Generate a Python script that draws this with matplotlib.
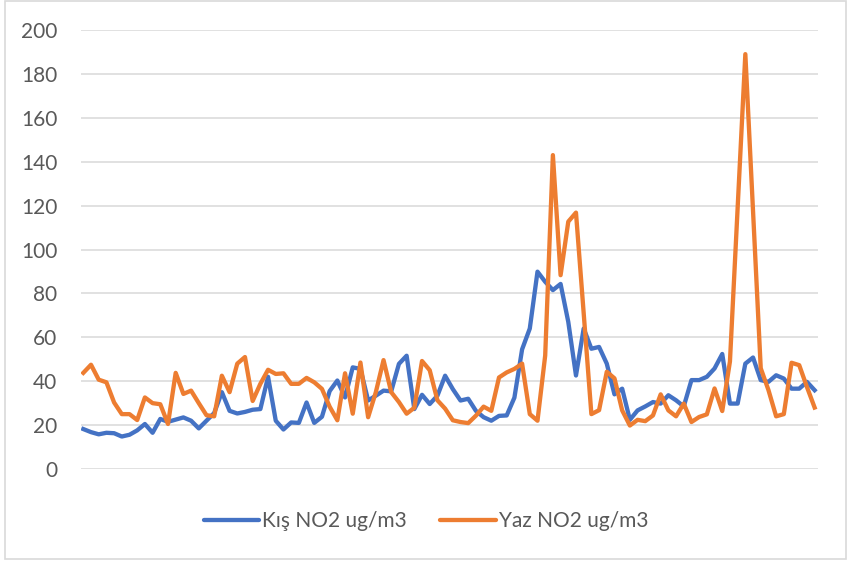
import matplotlib.pyplot as plt
from matplotlib.patches import Rectangle
from matplotlib.lines import Line2D

# Daily NO2 readings (ug/m3)
kis_no2 = [18.2, 16.8, 15.8, 16.5, 16.3, 14.8, 15.6, 17.6, 20.5, 16.5,
           22.8, 21.5, 22.5, 23.5, 22.0, 18.5, 22.0, 25.5, 35.0, 26.5,
           25.3, 26.0, 27.0, 27.3, 42.0, 22.0, 18.0, 21.2, 21.0, 30.3,
           21.0, 23.8, 35.5, 40.3, 32.6, 46.3, 45.6, 31.2, 33.4, 35.7,
           35.4, 47.9, 51.6, 27.3, 33.8, 29.6, 33.4, 42.5, 36.4, 31.2,
           32.0, 26.5, 23.6, 22.0, 24.2, 24.4, 32.5, 54.5, 64.0, 89.9,
           85.3, 81.5, 84.3, 67.0, 42.6, 64.0, 54.8, 55.6, 48.0, 34.0,
           36.6, 22.4, 26.7, 28.5, 30.5, 29.8, 33.6, 31.3, 28.5, 40.5,
           40.5, 42.0, 45.8, 52.4, 29.8, 29.8, 48.0, 50.8, 40.5, 39.7,
           42.7, 41.2, 36.6, 36.6, 39.7, 35.9]

yaz_no2 = [43.8, 47.5, 40.7, 39.5, 30.3, 25.0, 25.0, 22.3, 32.6, 30.0,
           29.5, 20.5, 43.8, 34.2, 35.7, 30.0, 24.5, 24.0, 42.5, 35.0,
           48.0, 51.0, 31.0, 38.8, 45.2, 43.3, 43.6, 38.8, 38.8, 41.5,
           39.5, 36.5, 28.4, 22.2, 43.6, 25.2, 48.5, 23.6, 35.0, 49.6,
           35.0, 30.5, 25.2, 27.9, 49.2, 45.0, 31.3, 27.5, 22.2, 21.4,
           20.9, 24.3, 28.4, 26.5, 41.7, 44.0, 45.6, 48.0, 25.0, 22.0,
           51.7, 143.0, 88.3, 112.7, 116.8, 71.0, 25.0, 26.8, 44.3, 41.3,
           26.7, 19.8, 22.4, 21.8, 24.4, 34.0, 26.7, 24.0, 29.8, 21.4,
           23.7, 24.9, 36.7, 26.4, 49.0, 119.0, 189.0, 117.5, 45.9, 36.0,
           24.0, 25.0, 48.4, 47.3, 37.4, 28.0]

series_labels = ["Kış NO2 ug/m3", "Yaz NO2 ug/m3"]
y_ticks = list(range(0, 201, 20))

BLUE = "#4472C4"
ORANGE = "#ED7D31"
GRID = "#D9D9D9"
TEXT = "#595959"

plt.rcParams["font.family"] = ["Lato", "DejaVu Sans"]

fig = plt.figure(figsize=(8.48, 5.63), dpi=100)
ax = fig.add_axes([81 / 848, 94 / 563, 736.7 / 848, 439 / 563])

x = list(range(len(kis_no2)))
ax.plot(x, kis_no2, color=BLUE, lw=3.1, solid_joinstyle="round", zorder=3)
ax.plot(x, yaz_no2, color=ORANGE, lw=3.1, solid_joinstyle="round", zorder=4)

ax.set_xlim(-0.3, len(x) - 1 + 0.4)
ax.set_ylim(0, 200)
ax.set_yticks(y_ticks)
ax.set_xticks([])
ax.tick_params(axis="y", length=0, pad=17, labelsize=15, labelcolor=TEXT)
ax.grid(axis="y", color=GRID, lw=1.1, zorder=0)
for s in ax.spines.values():
    s.set_visible(False)

# Legend below the plot
handles = [Line2D([0], [0], color=BLUE, lw=3.1, solid_capstyle="round"),
           Line2D([0], [0], color=ORANGE, lw=3.1, solid_capstyle="round")]
fig.legend(handles, series_labels, loc="center", bbox_to_anchor=(426 / 848, 1 - 521 / 563),
           ncol=2, frameon=False, fontsize=15, labelcolor=TEXT,
           handlelength=2.65, handletextpad=0.15, columnspacing=1.6)

# Chart area border
fig.patches.append(Rectangle((4.7 / 848, 1 - 558.7 / 563), 841.3 / 848, 557.4 / 563,
                             transform=fig.transFigure, fill=False,
                             edgecolor=GRID, lw=1.2))

fig.savefig("out.png", dpi=100)
